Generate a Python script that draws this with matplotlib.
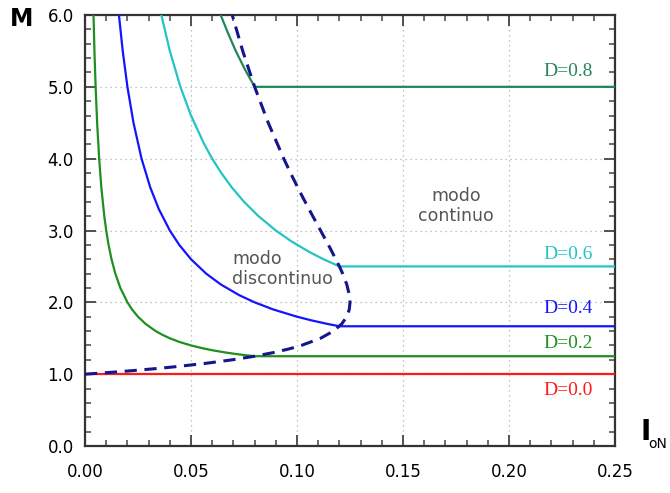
import matplotlib
matplotlib.use("Agg")
import matplotlib.pyplot as plt
from matplotlib.ticker import MultipleLocator

# ---- data ----
# D = 0.0
d00_i = [0.0, 0.25]
d00_m = [1.0, 1.0]
# D = 0.2
d02_i = [0.004, 0.00444, 0.005, 0.00571, 0.00667, 0.00769, 0.00909, 0.01, 0.0111, 0.0125, 0.01429, 0.01667,
         0.02, 0.0222, 0.025, 0.02857, 0.0333, 0.03636, 0.04, 0.0444, 0.05, 0.0556, 0.0606, 0.0667, 0.0714,
         0.0769, 0.08, 0.25]
d02_m = [6.0, 5.5, 5.0, 4.5, 4.0, 3.6, 3.2, 3.0, 2.8, 2.6, 2.4, 2.2,
         2.0, 1.9, 1.8, 1.7, 1.6, 1.55, 1.5, 1.45, 1.4, 1.36, 1.33, 1.3, 1.28,
         1.26, 1.25, 1.25]
# D = 0.4
d04_i = [0.016, 0.01778, 0.02, 0.02286, 0.02667, 0.03077, 0.03478, 0.04, 0.04444, 0.05, 0.05714, 0.064,
         0.07273, 0.08, 0.08889, 0.1, 0.10667, 0.11429, 0.12, 0.25]
d04_m = [6.0, 5.5, 5.0, 4.5, 4.0, 3.6, 3.3, 3.0, 2.8, 2.6, 2.4, 2.25,
         2.1, 2.0, 1.9, 1.8, 1.75, 1.7, 1.667, 1.667]
# D = 0.6
d06_i = [0.036, 0.04, 0.045, 0.05, 0.05625, 0.06, 0.06429, 0.06923, 0.075, 0.08182, 0.09, 0.0973,
         0.10588, 0.1125, 0.12, 0.25]
d06_m = [6.0, 5.5, 5.0, 4.6, 4.2, 4.0, 3.8, 3.6, 3.4, 3.2, 3.0, 2.85,
         2.7, 2.6, 2.5, 2.5]
# D = 0.8
d08_i = [0.064, 0.0674, 0.0711, 0.0753, 0.08, 0.25]
d08_m = [6.0, 5.75, 5.5, 5.25, 5.0, 5.0]
# boundary continuous / discontinuous
bnd_i = [0.0, 0.0049, 0.0096, 0.01634, 0.02268, 0.03245, 0.04132, 0.05671, 0.06944, 0.08, 0.08876, 0.09602,
         0.10204, 0.11111, 0.11719, 0.12111, 0.12346, 0.12465, 0.125, 0.12472, 0.12346, 0.12153, 0.12,
         0.1157, 0.11111, 0.10651, 0.10204, 0.09778, 0.09375, 0.08642, 0.08, 0.07438, 0.06944]
bnd_m = [1.0, 1.01, 1.02, 1.035, 1.05, 1.075, 1.1, 1.15, 1.2, 1.25, 1.3, 1.35,
         1.4, 1.5, 1.6, 1.7, 1.8, 1.9, 2.0, 2.1, 2.25, 2.4, 2.5,
         2.75, 3.0, 3.25, 3.5, 3.75, 4.0, 4.5, 5.0, 5.5, 6.0]

x_ticks = [0.00, 0.05, 0.10, 0.15, 0.20, 0.25]
x_tick_labels = ["0.00", "0.05", "0.10", "0.15", "0.20", "0.25"]
y_ticks = [0.0, 1.0, 2.0, 3.0, 4.0, 5.0, 6.0]
y_tick_labels = ["0.0", "1.0", "2.0", "3.0", "4.0", "5.0", "6.0"]

d_labels = ["D=0.0", "D=0.2", "D=0.4", "D=0.6", "D=0.8"]
d_label_m = [0.77, 1.43, 1.91, 2.67, 5.21]

c00 = "#ff1a1a"
c02 = "#1f8f1f"
c04 = "#1414ff"
c06 = "#22c4c4"
c08 = "#23865a"
cb = "#15158f"

fig = plt.figure(figsize=(6.70, 4.93), dpi=100)
ax = fig.add_axes([0.1269, 0.0953, 0.7910, 0.8743])

lw = 1.6
ax.plot(d00_i, d00_m, color=c00, lw=lw, zorder=3)
ax.plot(d02_i, d02_m, color=c02, lw=lw, zorder=3)
ax.plot(d04_i, d04_m, color=c04, lw=lw, zorder=3)
ax.plot(d06_i, d06_m, color=c06, lw=lw, zorder=3)
ax.plot(d08_i, d08_m, color=c08, lw=lw, zorder=3)
ax.plot(bnd_i, bnd_m, color=cb, lw=2.2, ls=(0, (4, 2.5)), zorder=4)

for lab, m, c in zip(d_labels, d_label_m, [c00, c02, c04, c06, c08]):
    ax.text(0.2395, m, lab, color=c, ha="right", va="center",
            fontsize=14, family="Liberation Serif")

ax.text(0.0693, 2.465, "modo\ndiscontinuo", color="#555555", ha="left", va="center",
        fontsize=12.5, family="DejaVu Sans", linespacing=1.1)
ax.text(0.175, 3.34, "modo\ncontinuo", color="#555555", ha="center", va="center",
        fontsize=12.5, family="DejaVu Sans", linespacing=1.1)

ax.set_xlim(0, 0.25)
ax.set_ylim(0, 6.0)
ax.set_xticks(x_ticks)
ax.set_xticklabels(x_tick_labels)
ax.set_yticks(y_ticks)
ax.set_yticklabels(y_tick_labels)
ax.xaxis.set_minor_locator(MultipleLocator(0.01))
ax.yaxis.set_minor_locator(MultipleLocator(0.2))
ax.tick_params(which="both", direction="in", top=True, right=True, color="#444444")
ax.tick_params(which="major", length=8, width=1.3, labelsize=12, pad=12)
ax.tick_params(which="minor", length=4, width=1.1)
ax.tick_params(axis="y", which="major", pad=8)
for s in ax.spines.values():
    s.set_linewidth(1.6)
    s.set_color("#333333")
ax.grid(True, which="major", ls=(0, (1, 3)), color="#b0b0b0", lw=0.9)

fig.text(0.015, 0.961, "M", fontsize=17, fontweight="bold", ha="left", va="center", family="DejaVu Sans")
fig.text(0.956, 0.124, "I", fontsize=20, fontweight="bold", ha="left", va="center", family="DejaVu Sans")
fig.text(0.968, 0.100, "oN", fontsize=10, ha="left", va="center", family="DejaVu Sans")

fig.savefig("out.png", dpi=100)
